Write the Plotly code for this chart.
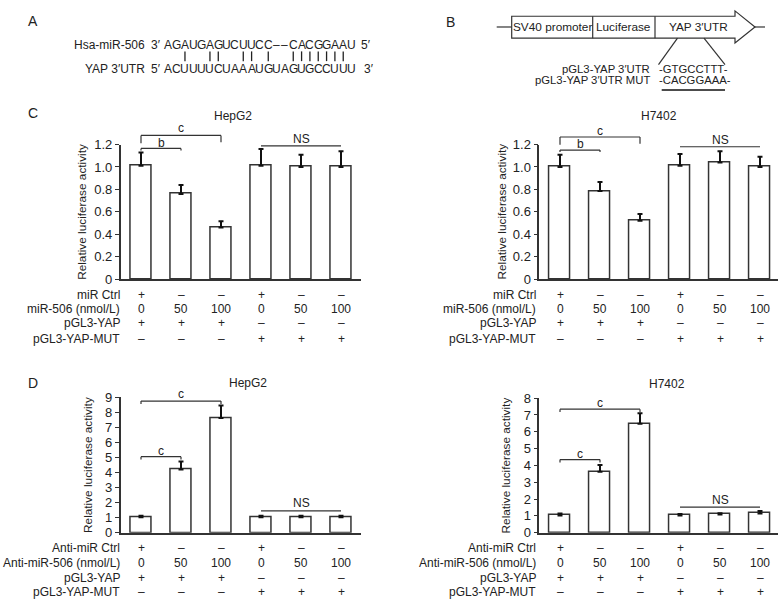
import plotly.graph_objects as go

W, H = 784, 609
FONT = "Liberation Sans, Arial, sans-serif"
INK = "#222222"
LINE = "#333333"

# ---------------- data ----------------
positions = [0, 1, 2, 3, 4, 5]
c_hepg2 = [1.01, 0.76, 0.46, 1.01, 1.00, 1.00]
c_hepg2_err = [0.12, 0.08, 0.055, 0.15, 0.11, 0.14]
c_h7402 = [1.00, 0.785, 0.52, 1.01, 1.04, 1.00]
c_h7402_err = [0.11, 0.08, 0.06, 0.105, 0.10, 0.09]
d_hepg2 = [1.02, 4.20, 7.62, 1.02, 1.02, 1.02]
d_hepg2_err = [0.10, 0.53, 0.82, 0.10, 0.10, 0.10]
d_h7402 = [1.02, 3.63, 6.48, 1.02, 1.08, 1.14]
d_h7402_err = [0.12, 0.40, 0.62, 0.10, 0.08, 0.15]

ctrl_row = ["+", "–", "–", "+", "–", "–"]
dose_row = ["0", "50", "100", "0", "50", "100"]
yap_row = ["+", "+", "+", "–", "–", "–"]
mut_row = ["–", "–", "–", "+", "+", "+"]
c_row_labels = ["miR Ctrl", "miR-506 (nmol/L)", "pGL3-YAP", "pGL3-YAP-MUT"]
d_row_labels = ["Anti-miR Ctrl", "Anti-miR-506 (nmol/L)", "pGL3-YAP", "pGL3-YAP-MUT"]

c_yticks = [0, 0.2, 0.4, 0.6, 0.8, 1.0, 1.2]
c_yticktext = ["0", "0.2", "0.4", "0.6", "0.8", "1.0", "1.2"]
d1_yticks = [0, 1, 2, 3, 4, 5, 6, 7, 8, 9]
d2_yticks = [0, 1, 2, 3, 4, 5, 6, 7, 8]

mir_seq = "AGAUGAGUCUUCC––CACGGAAU"
utr_seq = "ACUUUUCUAAAUGUAGUGCCUUU"
pair_idx = [2, 5, 6, 9, 10, 12, 15, 16, 17, 18, 19, 20, 21]


def px(x):
    return x / W


def py(y):
    return 1 - y / H


fig = go.Figure()
annotations = []
shapes = []


def txt(x, y, s, size=12, xanchor="center", xref="paper", yref="paper", angle=0, color=INK):
    if xref == "paper":
        x = px(x)
    if yref == "paper":
        y = py(y)
    annotations.append(dict(x=x, y=y, xref=xref, yref=yref, text=s, showarrow=False,
                            xanchor=xanchor, yanchor="middle", textangle=angle,
                            font=dict(family=FONT, size=size, color=color)))


def seg(x0, y0, x1, y1, w=1.3, color=LINE, xref="paper"):
    if xref == "paper":
        x0, x1 = px(x0), px(x1)
    shapes.append(dict(type="line", xref=xref, yref="paper", x0=x0, x1=x1,
                       y0=py(y0), y1=py(y1), line=dict(color=color, width=w)))


# ---------------- panels ----------------
panels = [
    dict(ax="", vals=c_hepg2, err=c_hepg2_err, xl=120.7, xr=361, c0=141, yb=279, yt=141,
         rng=[0, 1.2], tv=c_yticks, tt=c_yticktext, title="HepG2", tpos=(233, 112), ytx=82,
         rows=c_row_labels, rowy=[295, 310, 324.3, 340], lab_end=122,
         br=[(0, 2, 131.7, 8, 7, "c", 1, 124.5), (0, 1, 145, 2, 2, "b", 0.5, 139),
             (3, 5, 142.3, 0, 0, "NS", 4, 135.5)]),
    dict(ax="2", vals=c_h7402, err=c_h7402_err, xl=539.3, xr=778, c0=560, yb=279, yt=141,
         rng=[0, 1.2], tv=c_yticks, tt=c_yticktext, title="H7402", tpos=(659, 112), ytx=501.7,
         rows=c_row_labels, rowy=[295, 310, 324.3, 340], lab_end=537.5,
         br=[(0, 2, 133.3, 8, 7, "c", 1, 127.5), (0, 1, 146.7, 2, 2, "b", 0.5, 140.5),
             (3, 5, 143.3, 0, 0, "NS", 4, 136)]),
    dict(ax="3", vals=d_hepg2, err=d_hepg2_err, xl=120.7, xr=361, c0=141, yb=539, yt=400,
         rng=[0, 9], tv=d1_yticks, tt=[str(v) for v in d1_yticks], title="HepG2", tpos=(248, 386),
         ytx=88, rows=d_row_labels, rowy=[555, 570, 585, 600], lab_end=122,
         br=[(0, 2, 404, 3, 3, "c", 1, 397), (0, 1, 461, 3, 3, "c", 0.5, 455),
             (3, 5, 516.7, 0, 0, "NS", 4, 509)]),
    dict(ax="4", vals=d_h7402, err=d_h7402_err, xl=539.3, xr=778, c0=560, yb=539, yt=401,
         rng=[0, 8], tv=d2_yticks, tt=[str(v) for v in d2_yticks], title="H7402", tpos=(666.7, 387),
         ytx=506, rows=d_row_labels, rowy=[555, 570, 585, 600], lab_end=537.5,
         br=[(0, 2, 412.3, 3, 3, "c", 1, 405.5), (0, 1, 464, 3, 3, "c", 0.5, 458),
             (3, 5, 512.7, 0, 0, "NS", 4, 505.5)]),
]

layout_axes = {}
for p in panels:
    a = p["ax"]
    xname, yname = "x" + a, "y" + a
    fig.add_trace(go.Bar(
        x=positions, y=p["vals"], width=0.525, xaxis=xname, yaxis=yname,
        marker=dict(color="white", line=dict(color=LINE, width=1.5)),
        error_y=dict(type="data", array=p["err"], arrayminus=[0] * 6, symmetric=False,
                     visible=True, color="#111111", thickness=2, width=2.5),
        hoverinfo="skip"))
    xr = [(p["xl"] - p["c0"]) / 40, (p["xr"] - p["c0"]) / 40]
    layout_axes["xaxis" + a] = dict(domain=[px(p["xl"]), px(p["xr"])], range=xr, anchor=yname,
                                   showline=True, linecolor=LINE, linewidth=1.6, showgrid=False,
                                   zeroline=False, showticklabels=False, ticks="", fixedrange=True)
    layout_axes["yaxis" + a] = dict(domain=[py(p["yb"]), py(p["yt"])], range=p["rng"], anchor=xname,
                                   showline=True, linecolor=LINE, linewidth=1.6, showgrid=False,
                                   zeroline=False, ticks="outside", ticklen=4, tickwidth=1.3,
                                   tickcolor=LINE, tickvals=p["tv"], ticktext=p["tt"],
                                   tickfont=dict(family=FONT, size=13, color=INK), fixedrange=True)
    # title and y title
    txt(p["tpos"][0], p["tpos"][1], p["title"], size=12)
    txt(p["ytx"], (p["yb"] + p["yt"]) / 2, "Relative luciferase activity", size=11.8, angle=-90)
    # significance brackets
    for (x0, x1, yy, dl, dr, lab, lx, ly) in p["br"]:
        seg(x0, yy, x1, yy, w=1.2, xref=xname)
        if dl:
            seg(x0, yy, x0, yy + dl, w=1.2, xref=xname)
        if dr:
            seg(x1, yy, x1, yy + dr, w=1.2, xref=xname)
        txt(lx, ly, lab, size=12, xref=xname)
    # treatment table
    rows = [ctrl_row, dose_row, yap_row, mut_row]
    for lab, ry, row in zip(p["rows"], p["rowy"], rows):
        txt(p["lab_end"], ry, lab, size=12, xanchor="right")
        for xi, s in zip(positions, row):
            txt(xi, ry, s, size=12, xref=xname)

# ---------------- panel letters ----------------
txt(32.7, 14, "A", size=14)
txt(450, 15, "B", size=14)
txt(32.7, 108.5, "C", size=14)
txt(32.5, 385, "D", size=14)

# ---------------- panel A: sequences ----------------
txt(146.5, 39, "Hsa-miR-506", size=12, xanchor="right")
txt(146.5, 63.3, "YAP 3′UTR", size=12, xanchor="right")
txt(156, 39, "3′", size=12)
txt(156, 63.3, "5′", size=12)
for i, ch in enumerate(mir_seq):
    txt(168.3 + 8.33 * i, 39, ch, size=12)
for i, ch in enumerate(utr_seq):
    txt(168.3 + 8.33 * i, 63.3, ch, size=12)
txt(366, 39, "5′", size=12)
txt(368.5, 63.3, "3′", size=12)
for i in pair_idx:
    xx = 168.3 + 8.33 * i
    seg(xx, 45.5, xx, 55.5, w=1.3, color="#222222")

# ---------------- panel B: construct ----------------
seg(496.7, 20.5, 511.7, 20.5, w=1.2)
seg(755, 20.5, 765, 20.5, w=1.2)
path = "M {} {} L {} {} L {} {} L {} {} L {} {} L {} {} L {} {} Z".format(
    px(511.7), py(9.5), px(735), py(9.5), px(735), py(4), px(755), py(20.5),
    px(735), py(37), px(735), py(32), px(511.7), py(32))
shapes.append(dict(type="path", xref="paper", yref="paper", path=path,
                   line=dict(color=LINE, width=1.2), fillcolor="white"))
seg(592.7, 9.5, 592.7, 32, w=1.2)
seg(655, 9.5, 655, 32, w=1.2)
txt(552.2, 20.7, "SV40 promoter", size=11.8)
txt(623.8, 20.7, "Luciferase", size=11.8)
txt(698.3, 20.7, "YAP 3′UTR", size=11.8)
seg(677.5, 32, 658.5, 59, w=1.2)
seg(704, 32, 725, 59, w=1.2)
txt(652, 63.3, "pGL3-YAP 3′UTR", size=11.3, xanchor="right")
txt(652, 75.3, "pGL3-YAP 3′UTR MUT", size=11.3, xanchor="right")
txt(656.5, 63.3, "-GTGCCTTT-", size=11.3, xanchor="left")
txt(656.5, 75.3, "-CACGGAAA-", size=11.3, xanchor="left")
seg(661.7, 85, 725, 85, w=1.5, color="#111111")

fig.update_layout(
    width=W, height=H, margin=dict(l=0, r=0, t=0, b=0),
    paper_bgcolor="white", plot_bgcolor="white", showlegend=False,
    annotations=annotations, shapes=shapes, bargap=0, **layout_axes)

fig.write_html("out.html", config={"displayModeBar": False},
               post_script="document.body.style.margin='0px';document.body.style.overflow='hidden';")
